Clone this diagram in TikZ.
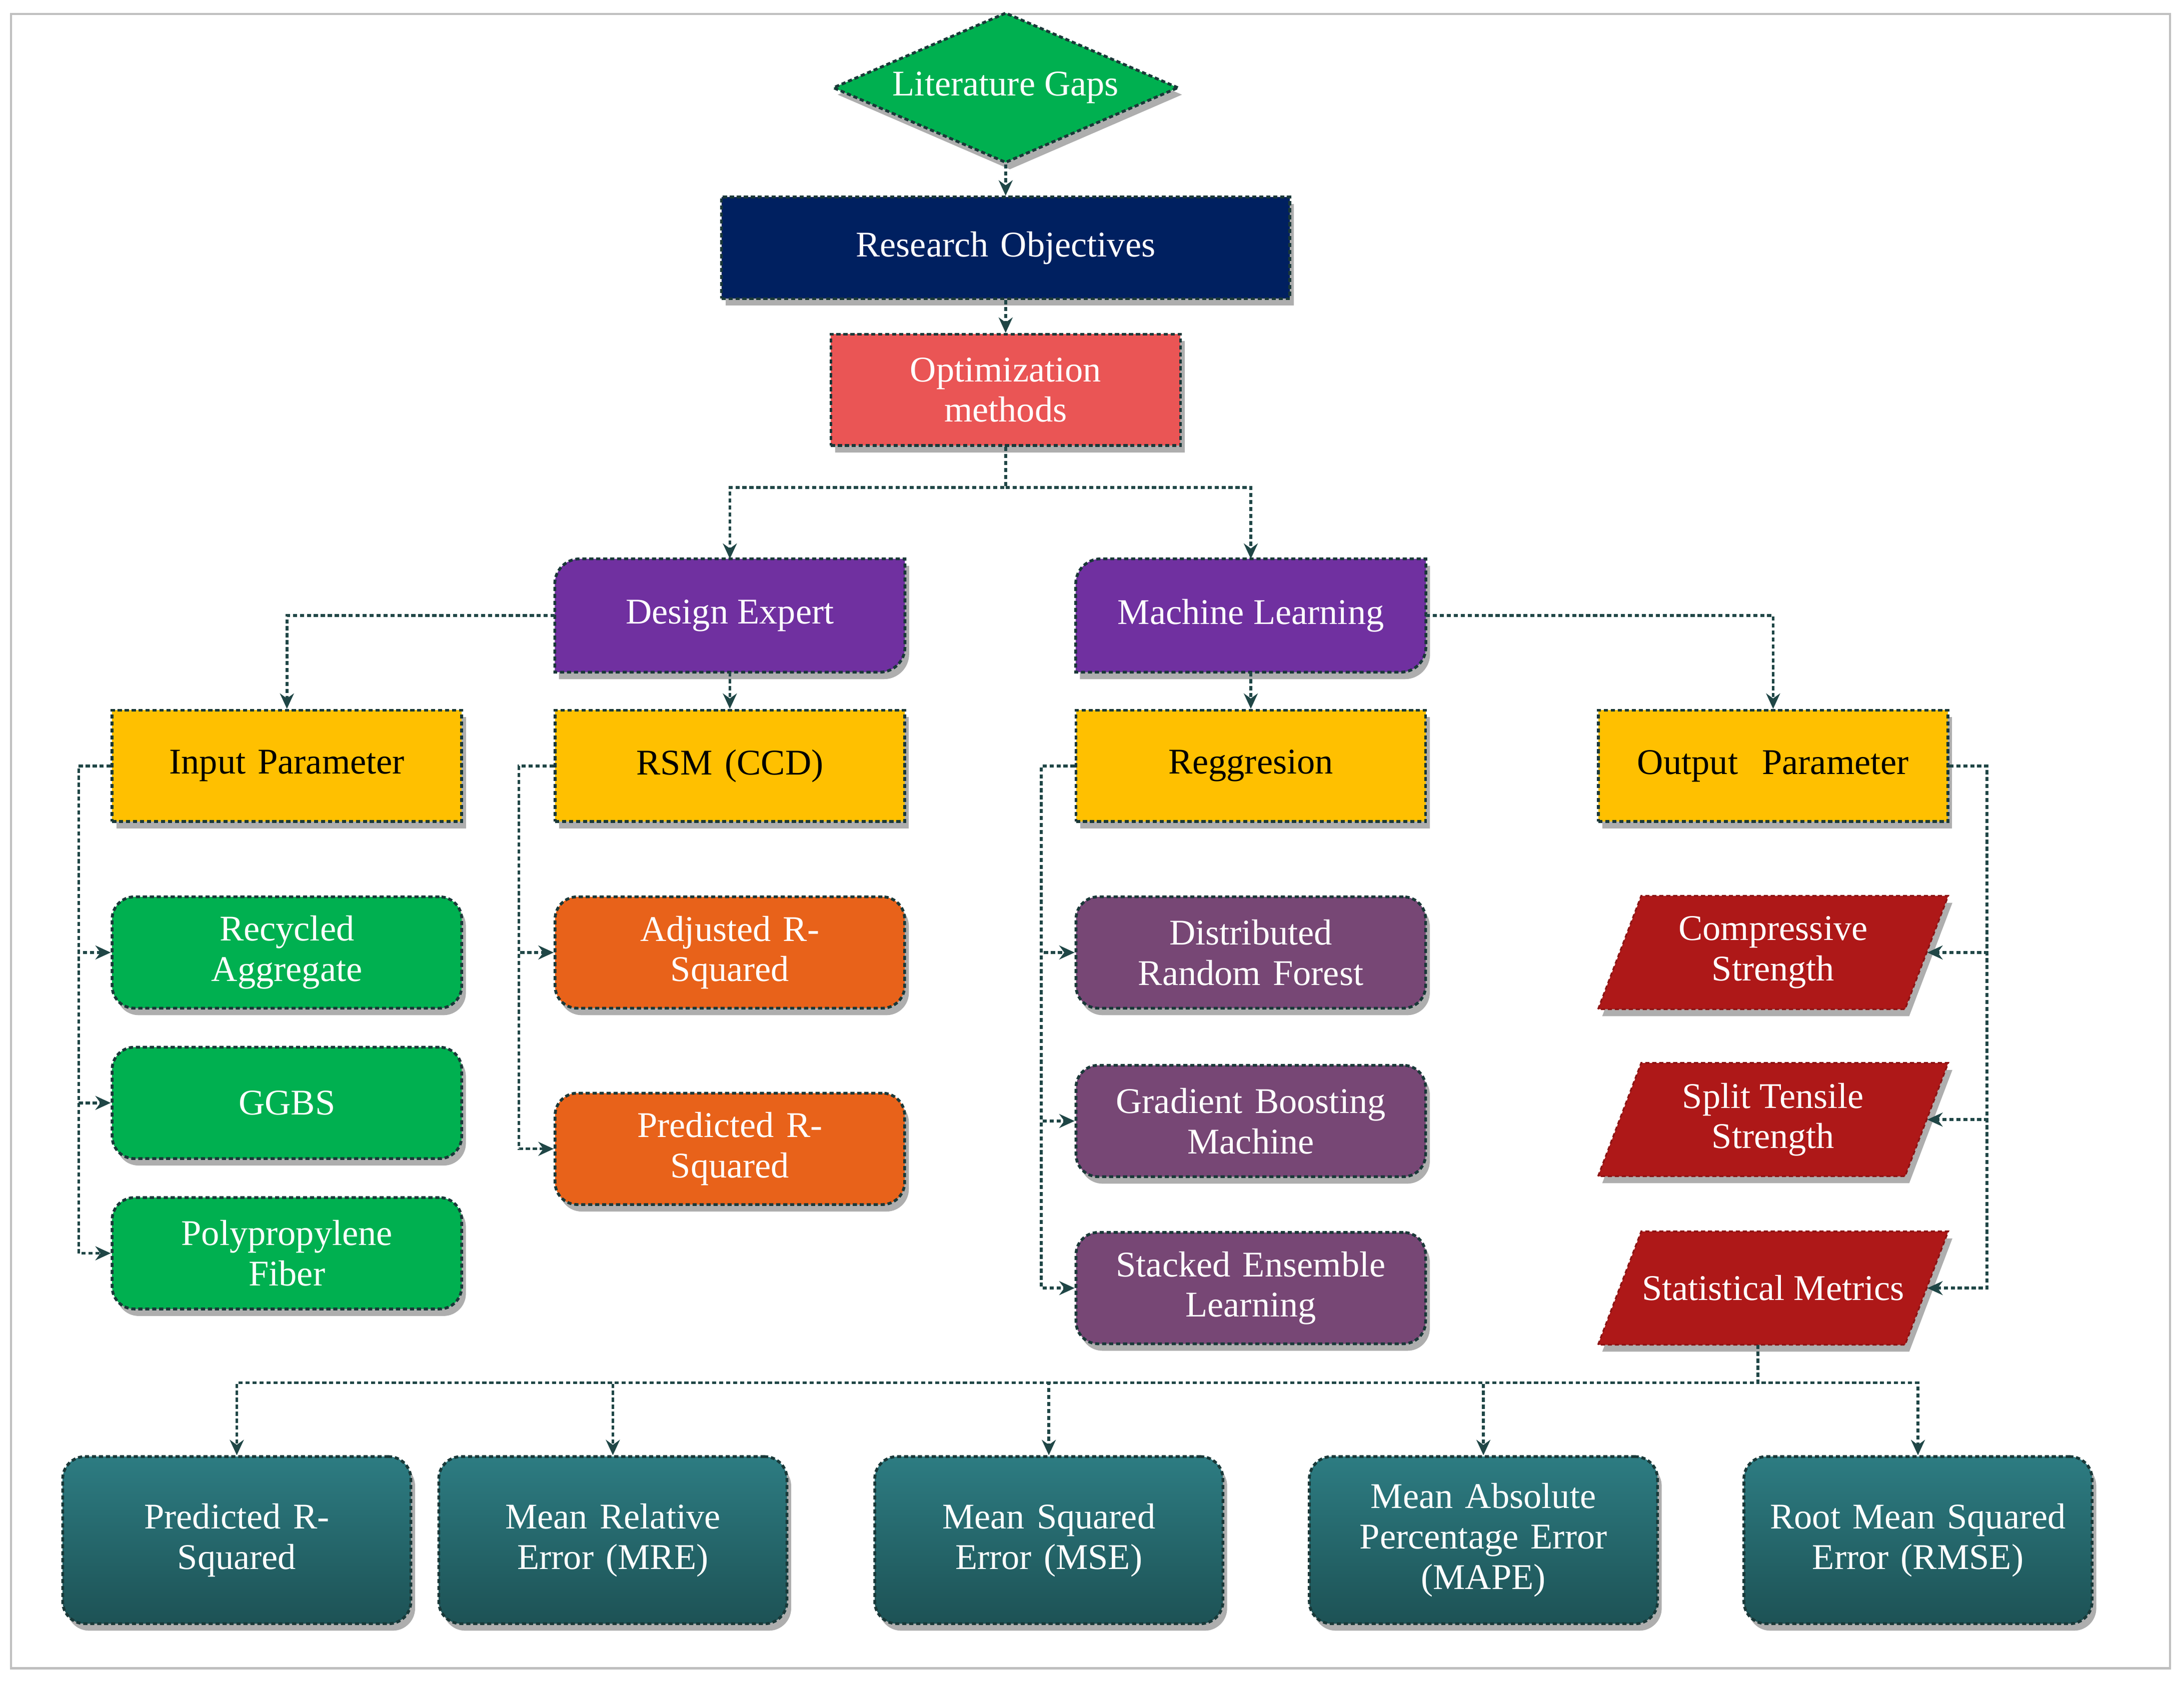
\documentclass[tikz,border=0pt]{standalone}
\usepackage{fontspec}
\setmainfont{Liberation Serif}
\usetikzlibrary{shapes.geometric,shadows,arrows.meta}
\definecolor{lg}{HTML}{00B050}
\definecolor{navy}{HTML}{002060}
\definecolor{salmon}{HTML}{EA5555}
\definecolor{purp}{HTML}{7030A0}
\definecolor{yel}{HTML}{FFC000}
\definecolor{orng}{HTML}{E8621A}
\definecolor{plum}{HTML}{774775}
\definecolor{dred}{HTML}{AE1818}
\definecolor{tealT}{HTML}{2D7C82}
\definecolor{tealB}{HTML}{1D5255}
\definecolor{ln}{HTML}{1F4646}
\begin{document}
\begin{tikzpicture}[x=1pt,y=1pt,
  font=\fontsize{26}{29}\selectfont,
  sh/.style={drop shadow={shadow xshift=3pt,shadow yshift=-5pt,opacity=0.45,fill=black!70}},
  bd/.style={draw=ln!80!black,densely dashed,line width=2pt},
  box/.style={sh,bd,minimum width=251pt,minimum height=80pt,align=center,text width=240pt,inner sep=2pt},
  wbox/.style={box,text=white},
  kbox/.style={box,text=black,fill=yel},
  rbox/.style={wbox,rounded corners=16pt},
  ghost/.style={minimum width=251pt,minimum height=81pt,align=center,text width=240pt,inner sep=2pt},
  conn/.style={draw=ln,densely dashed,line width=2pt,-{Stealth[length=11pt,width=10pt]}}]
\useasboundingbox (0,0) rectangle (1568,-1214);
\draw[gray!50,line width=1.5pt] (8,-10) rectangle (1558,-1198);
% top
\node[diamond,aspect=2.3,sh,bd,fill=lg,text=white,minimum width=248pt,minimum height=108pt,inner sep=0pt] (LG) at (722,-63) {Literature Gaps};
\node[wbox,fill=navy,minimum width=408pt,minimum height=73pt,text width=380pt] (RO) at (722,-178) {Research Objectives};
\node[wbox,fill=salmon] (OM) at (722,-280) {Optimization\\methods};
% purple tag shapes
\node[ghost] (DE) at (524,-442) {};
\node[ghost] (ML) at (898,-442) {};
\foreach \n in {DE,ML}{
 \filldraw[sh,bd,fill=purp] ([yshift=-18pt]\n.north west) arc[start angle=180,end angle=90,radius=18pt] -- (\n.north east) -- ([yshift=18pt]\n.south east) arc[start angle=0,end angle=-90,radius=18pt] -- (\n.south west) -- cycle;}
\node[text=white] at (DE) {Design Expert};
\node[text=white] at (ML) {Machine Learning};
% yellow
\node[kbox] (IP) at (206,-550) {Input Parameter};
\node[kbox] (RSM) at (524,-550) {RSM (CCD)};
\node[kbox] (RG) at (898,-550) {Reggresion};
\node[kbox] (OP) at (1273,-550) {Output\ \ Parameter};
% children
\node[rbox,fill=lg] (RA) at (206,-684) {Recycled\\Aggregate};
\node[rbox,fill=lg] (GG) at (206,-792) {GGBS};
\node[rbox,fill=lg] (PF) at (206,-900) {Polypropylene\\Fiber};
\node[rbox,fill=orng] (AR) at (524,-684) {Adjusted R-\\Squared};
\node[rbox,fill=orng] (PR) at (524,-825) {Predicted R-\\Squared};
\node[rbox,fill=plum] (DR) at (898,-684) {Distributed\\Random Forest};
\node[rbox,fill=plum] (GB) at (898,-805) {Gradient Boosting\\Machine};
\node[rbox,fill=plum] (SE) at (898,-925) {Stacked Ensemble\\Learning};
% parallelograms
\node[ghost] (CS) at (1273,-684) {};
\node[ghost] (ST) at (1273,-804) {};
\node[ghost] (SM) at (1273,-925) {};
\foreach \n in {CS,ST,SM}{
 \filldraw[sh,draw=dred!80!black,densely dashed,line width=1.2pt,fill=dred] (\n.south west) -- ([xshift=31pt]\n.north west) -- (\n.north east) -- ([xshift=-31pt]\n.south east) -- cycle;}
\node[text=white,align=center] at (CS) {Compressive\\Strength};
\node[text=white,align=center] at (ST) {Split Tensile\\Strength};
\node[text=white,align=center] at (SM) {Statistical Metrics};
% bottom
\tikzset{tbox/.style={rbox,top color=tealT,bottom color=tealB,minimum width=250pt,minimum height=120pt}}
\node[tbox] (B1) at (170,-1106) {Predicted R-\\Squared};
\node[tbox] (B2) at (440,-1106) {Mean Relative\\Error (MRE)};
\node[tbox] (B3) at (753,-1106) {Mean Squared\\Error (MSE)};
\node[tbox] (B4) at (1065,-1106) {Mean Absolute\\Percentage Error\\(MAPE)};
\node[tbox] (B5) at (1377,-1106) {Root Mean Squared\\Error (RMSE)};
% connectors
\draw[conn] (LG.south) -- (RO.north);
\draw[conn] (RO.south) -- (OM.north);
\coordinate (om1) at (722,-350);
\draw[conn] (OM.south) -- (om1) -| (DE.north);
\draw[conn] (om1) -| (ML.north);
\draw[conn] (DE.west) -| (IP.north);
\draw[conn] (DE.south) -- (RSM.north);
\draw[conn] (ML.south) -- (RG.north);
\draw[conn] (ML.east) -| (OP.north);
\foreach \c in {RA,GG,PF}{\draw[conn] (IP.west) -- ++(-23,0) |- (\c.west);}
\foreach \c in {AR,PR}{\draw[conn] (RSM.west) -- ++(-25,0) |- (\c.west);}
\foreach \c in {DR,GB,SE}{\draw[conn] (RG.west) -- ++(-24,0) |- (\c.west);}
\foreach \c in {CS,ST,SM}{\draw[conn] (OP.east) -- ++(27,0) |- ([xshift=-15pt]\c.east);}
\coordinate (bus) at (1262,-993);
\foreach \c in {B1,B2,B3,B4,B5}{\draw[conn] ([xshift=-11pt]SM.south) -- (bus) -| (\c.north);}
\end{tikzpicture}
\end{document}
